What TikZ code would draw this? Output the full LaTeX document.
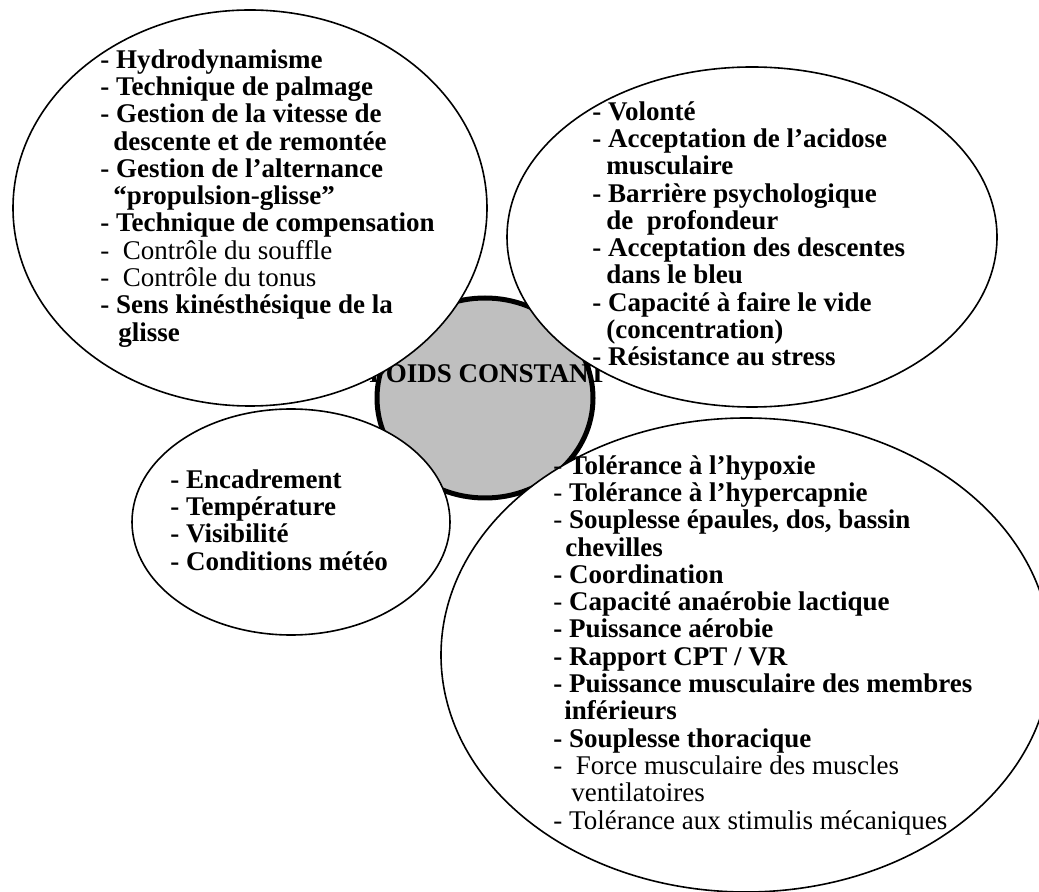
\documentclass[tikz,border=0pt]{standalone}
\usepackage{fontspec}
\setmainfont{Liberation Serif}
\usetikzlibrary{shapes.geometric}

\begin{document}
\begin{tikzpicture}[x=0.5pt,y=-0.5pt]
\tikzset{bulle/.style = {shape=ellipse,draw,fill=white,line width=0.8pt,inner sep=0pt}}
\tikzset{liste/.style = {anchor=north west,align=left,inner sep=0pt,font=\fontsize{13.5}{13.65}\selectfont\bfseries}}
\useasboundingbox (0,0) rectangle (1039,892);
\clip (0,0) rectangle (1039,892);
\node[shape=ellipse,draw,fill=black!25,line width=2.5pt,minimum width=108pt,minimum height=100pt] (poids) at (485,398) {};
\node[inner sep=0pt,font=\fontsize{13.5}{13.65}\selectfont\bfseries] (titre) at (488,374) {POIDS CONSTANT};
\node[bulle,minimum width=237pt,minimum height=198pt] (technique) at (250,208) {};
\node[bulle,minimum width=245pt,minimum height=170pt] (mental) at (752,237) {};
\node[bulle,minimum width=159pt,minimum height=113pt] (milieu) at (291,522) {};
\node[bulle,minimum width=305pt,minimum height=237pt] (physique) at (746,655) {};
% listes
\node[liste] (techtxt) at (100,49) {- Hydrodynamisme\\
- Technique de palmage\\
- Gestion de la vitesse de\\
\hspace*{6.5pt}descente et de remontée\\
- Gestion de l’alternance\\
\hspace*{6.5pt}“propulsion-glisse”\\
- Technique de compensation\\
{\mdseries -~~Contrôle du souffle}\\
{\mdseries -~~Contrôle du tonus}\\
- Sens kinésthésique de la\\
\hspace*{9pt}glisse};
\node[liste] (mentaltxt) at (592,101) {- Volonté\\
- Acceptation de l’acidose\\
\hspace*{7pt}musculaire\\
- Barrière psychologique\\
\hspace*{7pt}de~~profondeur\\
- Acceptation des descentes\\
\hspace*{7pt}dans le bleu\\
- Capacité à faire le vide\\
\hspace*{7pt}(concentration)\\
- Résistance au stress};
\node[liste] (milieutxt) at (170,469) {- Encadrement\\
- Température\\
- Visibilité\\
- Conditions météo};
\node[liste] (physiquetxt) at (553,455) {{\mdseries -} Tolérance à l’hypoxie\\
{\mdseries -} Tolérance à l’hypercapnie\\
{\mdseries -} Souplesse épaules, dos, bassin\\
\hspace*{6pt}chevilles\\
- Coordination\\
{\mdseries -} Capacité anaérobie lactique\\
- Puissance aérobie\\
- Rapport CPT / VR\\
- Puissance musculaire des membres\\
\hspace*{5.5pt}inférieurs\\
- Souplesse thoracique\\
{\mdseries -~~Force musculaire des muscles}\\
{\mdseries \hspace*{9pt}ventilatoires}\\
{\mdseries - Tolérance aux stimulis mécaniques}};
\end{tikzpicture}
\end{document}
